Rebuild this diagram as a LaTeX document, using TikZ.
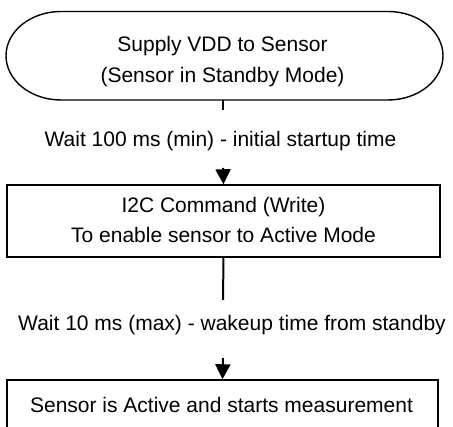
\documentclass[tikz,border=0pt]{standalone}
\usepackage{fontspec}
\setmainfont{Liberation Sans}
\usetikzlibrary{arrows.meta}
\begin{document}
\begin{tikzpicture}[x=1pt,y=1pt,
  boxline/.style={draw=black,line width=1.4pt},
  procbox/.style={boxline,minimum width=433pt,inner sep=0pt},
  txt/.style={anchor=base,inner sep=0pt,font=\fontsize{21}{31}\selectfont},
  conn/.style={draw=black,line width=2pt},
  arr/.style={conn,-{Triangle[length=15pt,width=15pt]}}]
\useasboundingbox (0,0) rectangle (453,427);
\clip (0,0) rectangle (453,427);
% start terminal (stadium with elliptical ends)
\draw[boxline] (61,415.5) -- (388,415.5)
  arc[start angle=90,end angle=-90,x radius=55,y radius=44.25]
  -- (61,327)
  arc[start angle=270,end angle=90,x radius=55,y radius=44.25] -- cycle;
\coordinate (startbot) at (223,327);
\node[txt] (t1a) at (222.5,375.3) {Supply VDD to Sensor};
\node[txt] (t1b) at (222.5,344.3) {(Sensor in Standby Mode)};
% process box 2
\node[procbox,minimum height=72pt] (b2) at (223.5,206) {};
\node[txt] (t2a) at (223.5,214) {I2C Command (Write)};
\node[txt] (t2b) at (223.5,184) {To enable sensor to Active Mode};
% process box 3 (cut by page bottom)
\node[procbox,minimum width=431pt,minimum height=70pt] (b3) at (222.5,12) {};
\node[txt] (t3) at (221.5,14) {Sensor is Active and starts measurement};
% labels
\node[txt] (w1) at (220.5,280) {Wait 100 ms (min) - initial startup time};
\node[txt] (w2) at (232,96.5) {Wait 10 ms (max) - wakeup time from standby};
% connectors
\coordinate (c1a) at (223,317);
\coordinate (c1b) at (223,259);
\coordinate (c2a) at (223,127);
\coordinate (c2b) at (223,69);
\draw[conn] (startbot) -- (c1a);
\draw[arr] (c1b) -- (b2.north);
\draw[conn] (b2.south) -- (c2a);
\draw[arr] (c2b) -- (b3.north);
\end{tikzpicture}
\end{document}
